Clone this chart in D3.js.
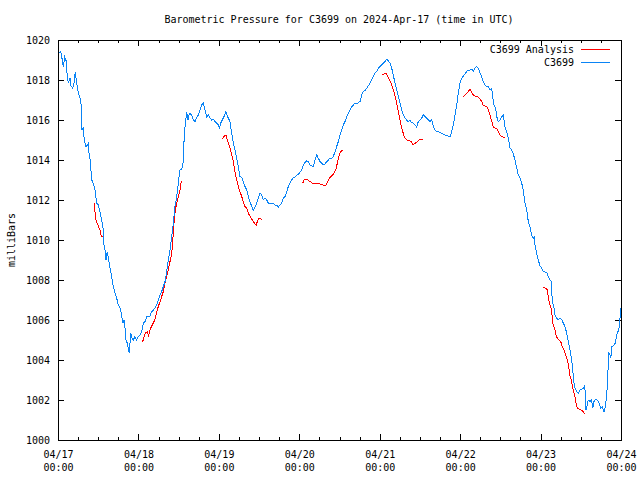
<!DOCTYPE html>
<html>
<head>
<meta charset="utf-8">
<script src="https://cdn.jsdelivr.net/npm/d3@7"></script>
<style>
  html, body { margin: 0; padding: 0; background: #fff; }
  svg { display: block; }
  text { font-family: "DejaVu Sans Mono", "Liberation Mono", monospace; font-size: 10px; fill: #000; }
</style>
</head>
<body>
<svg id="chart" width="640" height="480"></svg>
<script>
// ---------------- DATA ----------------
const startDate = Date.UTC(2024, 3, 17, 0, 0);   // 2024-04-17 00:00 UTC
const titleText = "Barometric Pressure for C3699 on 2024-Apr-17 (time in UTC)";
const yLabelText = "milliBars";
const seriesNames = ["C3699 Analysis", "C3699"];
const yTicks = [1000, 1002, 1004, 1006, 1008, 1010, 1012, 1014, 1016, 1018, 1020];
const dayTickHours = [0, 24, 48, 72, 96, 120, 144, 168];
const minorTickHours = d3.range(0, 169, 6);

// observed station pressure: [hours since 04/17 00:00, mbar]
const observed = [
[0,1019.5],[0.1,1019.37],[0.8,1019.42],[1.28,1019.0],[1.58,1018.67],[2.0,1019.14],[2.39,1018.97],[2.78,1018.17],
[3.07,1017.87],[3.58,1018.09],[3.88,1017.7],[4.39,1017.59],[4.77,1017.84],[5.16,1018.42],[5.58,1017.84],[6.06,1017.34],
[6.56,1017.09],[6.86,1016.84],[7.16,1015.5],[7.55,1015.59],[7.85,1015.0],[8.36,1014.67],[8.74,1014.75],[9.04,1014.84],
[9.25,1014.35],[9.55,1014.05],[10.06,1013.0],[10.53,1012.84],[11.04,1012.5],[11.55,1011.84],[12.03,1011.75],[12.53,1011.42],
[13.04,1011.0],[13.52,1010.5],[13.6,1009.84],[14.02,1009.5],[14.32,1009.0],[14.71,1009.42],[15.01,1009.09],[15.52,1008.59],
[16.02,1008.17],[16.5,1007.67],[17.01,1007.34],[17.52,1007.09],[17.99,1006.75],[18.5,1006.59],[19.01,1006.25],[19.31,1005.84],
[19.69,1006.0],[19.99,1005.59],[20.29,1005.0],[20.68,1004.84],[20.98,1004.59],[21.28,1004.34],[21.69,1005.34],[22.08,1005.09],
[22.47,1005.0],[22.98,1005.17],[23.48,1005.0],[23.96,1005.17],[24.47,1005.25],[24.98,1005.42],[25.45,1005.84],[25.96,1005.92],
[26.47,1006.17],[26.95,1006.2],[27.45,1006.2],[27.96,1006.42],[28.44,1006.5],[28.94,1006.59],[29.45,1006.75],[29.93,1007.0],
[30.44,1007.25],[30.94,1007.42],[31.42,1007.67],[31.93,1007.92],[32.44,1008.42],[32.91,1009.0],[33.42,1009.5],[33.93,1010.17],
[34.41,1010.84],[34.91,1011.67],[35.42,1012.17],[35.9,1012.84],[36.11,1013.17],[36.4,1013.5],[36.91,1013.54],[37.39,1013.92],
[37.69,1015.34],[38.11,1015.92],[38.4,1016.42],[38.79,1016.0],[39.18,1016.34],[39.9,1016.25],[40.37,1016.0],[40.88,1015.92],
[41.39,1016.14],[41.87,1016.25],[42.37,1016.5],[42.88,1016.75],[43.36,1016.84],[43.86,1016.5],[44.37,1016.14],[44.85,1016.25],
[45.36,1016.09],[45.86,1016.0],[46.34,1016.04],[46.85,1015.92],[47.36,1015.84],[47.83,1015.75],[48.13,1015.59],[48.55,1015.84],
[49.15,1016.04],[49.53,1016.17],[50.04,1016.42],[50.52,1016.2],[51.12,1016.0],[51.32,1015.92],[51.83,1015.34],[52.31,1014.84],
[52.82,1014.5],[53.32,1014.09],[53.8,1013.67],[54.31,1013.17],[54.82,1013.14],[55.29,1012.92],[55.8,1012.67],[56.31,1012.5],
[56.79,1012.17],[57.29,1011.92],[57.8,1011.67],[58.28,1011.47],[58.78,1011.64],[59.29,1011.84],[59.77,1012.09],[60.28,1012.34],
[60.78,1012.25],[61.26,1012.0],[61.77,1012.09],[62.28,1012.0],[62.75,1011.84],[63.26,1011.84],[64.25,1011.84],[64.75,1011.75],
[65.26,1011.75],[65.74,1011.64],[66.24,1011.75],[66.75,1011.84],[67.23,1012.09],[67.74,1012.17],[68.24,1012.42],[68.72,1012.67],
[69.23,1012.84],[69.74,1013.0],[70.21,1013.14],[70.72,1013.14],[71.41,1013.25],[72.0,1013.34],[72.72,1013.5],[73.2,1013.75],
[73.7,1013.87],[74.21,1013.97],[74.69,1013.92],[75.2,1013.75],[75.7,1013.7],[76.18,1013.67],[76.69,1014.0],[77.2,1014.25],
[77.67,1014.09],[78.18,1013.92],[78.69,1013.84],[79.17,1013.75],[79.67,1013.8],[80.18,1013.92],[80.66,1014.0],[81.16,1014.09],
[81.67,1014.09],[82.15,1014.17],[82.66,1014.42],[83.16,1014.67],[83.64,1014.92],[84.15,1015.25],[84.66,1015.5],[85.13,1015.75],
[85.64,1015.92],[86.15,1016.17],[86.63,1016.34],[87.13,1016.5],[87.64,1016.67],[88.12,1016.75],[88.62,1016.84],[89.13,1016.8],
[89.61,1016.87],[90.12,1016.92],[90.62,1017.25],[91.1,1017.42],[91.61,1017.47],[92.12,1017.59],[93.1,1017.84],[93.61,1018.0],
[94.09,1018.17],[94.59,1018.34],[95.1,1018.42],[95.58,1018.59],[96.08,1018.67],[96.59,1018.75],[97.07,1018.84],[97.58,1018.92],
[98.08,1019.04],[98.56,1018.97],[99.07,1018.84],[99.58,1018.59],[100.05,1018.25],[100.56,1017.84],[101.07,1017.5],[101.55,1017.17],
[102.05,1016.84],[102.56,1016.5],[103.04,1016.25],[103.55,1016.09],[104.05,1016.0],[104.53,1015.92],[105.04,1015.97],[105.54,1015.87],
[106.02,1015.84],[106.53,1015.75],[107.04,1015.64],[107.51,1015.92],[108.02,1016.0],[108.53,1016.09],[109.01,1016.25],[109.51,1016.17],
[110.02,1016.09],[110.5,1016.0],[111.0,1015.92],[111.51,1016.0],[111.99,1015.67],[112.5,1015.5],[113.0,1015.42],[113.48,1015.42],
[113.99,1015.37],[114.5,1015.34],[114.97,1015.3],[115.48,1015.25],[115.99,1015.25],[116.47,1015.2],[116.97,1015.17],[117.48,1015.42],
[117.96,1015.75],[118.46,1016.25],[118.97,1016.75],[119.45,1017.34],[119.96,1017.84],[120.46,1018.09],[120.94,1018.2],[121.45,1018.3],
[121.96,1018.42],[122.43,1018.5],[122.94,1018.5],[123.45,1018.54],[123.93,1018.42],[124.43,1018.59],[124.94,1018.67],[125.42,1018.59],
[125.92,1018.34],[126.43,1018.17],[126.91,1017.92],[127.42,1017.75],[127.92,1017.67],[128.4,1017.67],[128.91,1017.5],[129.41,1017.59],
[129.71,1017.17],[130.1,1016.75],[130.61,1016.59],[130.91,1016.17],[131.39,1015.92],[131.89,1016.0],[132.4,1016.17],[132.88,1016.25],
[133.38,1015.67],[133.89,1015.42],[134.37,1015.09],[134.88,1014.59],[135.38,1014.5],[135.86,1014.3],[136.37,1014.0],[136.88,1013.6],
[137.35,1013.25],[137.86,1013.09],[138.37,1012.84],[138.85,1012.5],[139.35,1011.84],[139.86,1011.5],[140.34,1010.92],[140.84,1010.67],
[141.35,1010.25],[141.83,1010.09],[142.13,1010.14],[142.34,1009.75],[142.84,1009.34],[143.32,1009.0],[143.83,1008.7],[144.34,1008.59],
[144.81,1008.42],[145.83,1008.37],[146.31,1008.17],[146.81,1008.0],[147.11,1007.97],[147.32,1007.34],[147.62,1006.84],[148.01,1006.59],
[148.3,1006.25],[148.81,1006.09],[149.29,1006.0],[149.8,1006.09],[150.3,1006.04],[150.78,1005.84],[151.29,1005.67],[151.8,1005.34],
[152.27,1004.92],[152.78,1004.5],[153.29,1004.0],[153.59,1003.5],[153.97,1002.84],[154.27,1002.59],[154.78,1002.42],[155.26,1002.34],
[155.76,1002.5],[156.27,1002.54],[156.75,1002.59],[157.05,1002.67],[157.35,1002.42],[157.56,1001.5],[157.94,1001.75],[158.24,1002.0],
[158.75,1001.92],[159.26,1002.0],[159.55,1001.59],[159.94,1001.92],[160.45,1002.04],[160.93,1002.0],[161.43,1001.84],[161.94,1001.59],
[162.42,1001.67],[162.93,1001.42],[163.31,1001.67],[163.73,1002.25],[164.03,1003.09],[164.33,1004.34],[164.72,1004.25],[164.93,1004.09],
[165.31,1004.67],[165.91,1004.75],[166.3,1004.84],[166.72,1005.25],[167.1,1005.42],[167.5,1005.67],[167.91,1006.5],[168,1006.6]
];

// model analysis, drawn as separate pieces: [hours since 04/17 00:00, mbar]
const analysisSegments = [
 [[10.83,1011.84],[11.04,1011.4],[11.34,1011.0],[11.55,1010.88],[11.94,1010.75],[12.32,1010.55],[12.53,1010.5],[12.83,1010.25],[13.04,1010.17],[13.34,1010.17]],
 [[24.98,1004.87],[25.45,1005.0],[25.75,1005.2],[26.17,1005.37],[26.65,1005.42],[27.06,1005.17],[27.24,1005.42],[27.66,1005.59],[28.14,1005.75],
  [28.65,1005.92],[29.15,1006.17],[29.45,1006.42],[29.93,1006.67],[30.44,1006.92],[30.94,1007.17],[31.42,1007.42],[31.93,1007.84],[32.44,1008.17],
  [32.91,1008.5],[33.42,1008.92],[33.93,1009.34],[34.23,1009.84],[34.41,1010.5],[34.7,1011.0],[35.0,1011.5],[35.42,1011.84],[35.9,1012.17],
  [36.4,1012.5],[36.7,1012.84],[37.0,1012.92]],
 [[49.03,1015.04],[49.62,1015.2],[50.13,1015.25],[50.52,1015.0],[50.82,1014.84],[51.32,1014.59],[51.83,1014.25],[52.31,1013.92],[52.82,1013.42],
  [53.32,1013.0],[53.8,1012.67],[54.31,1012.42],[54.82,1012.17],[55.29,1011.92],[55.8,1011.67],[56.31,1011.59],[56.79,1011.34],[57.29,1011.2],
  [57.8,1011.04],[58.28,1010.92],[58.78,1010.8],[59.17,1010.75],[59.47,1010.92],[59.89,1011.09],[60.49,1011.05],[60.96,1011.0]],
 [[73.02,1012.84],[73.41,1013.0],[74.21,1013.04],[75.2,1012.92],[76.0,1012.84],[77.2,1012.84],[78.18,1012.8],[78.99,1012.75],[79.97,1012.75],
  [80.48,1012.92],[80.96,1013.09],[81.67,1013.2],[82.36,1013.34],[82.96,1013.54],[83.34,1013.84],[83.76,1014.17],[84.15,1014.34],[84.66,1014.47],[85.13,1014.5]],
 [[96.77,1018.25],[97.37,1018.3],[97.88,1018.34],[98.38,1018.2],[98.86,1018.0],[99.37,1017.84],[99.87,1017.59],[100.35,1017.34],[100.86,1017.0],
  [101.37,1016.59],[101.84,1016.17],[102.35,1015.75],[102.86,1015.42],[103.34,1015.17],[103.84,1015.04],[104.35,1014.97],[104.83,1014.97],
  [105.34,1014.92],[105.84,1014.79],[106.32,1014.8],[106.83,1014.87],[107.33,1014.92],[107.81,1015.0],[108.53,1015.04],[109.01,1015.05]],
 [[120.94,1017.17],[121.45,1017.25],[121.96,1017.34],[122.43,1017.42],[122.94,1017.53],[123.45,1017.38],[123.93,1017.25],[124.43,1017.19],
  [124.94,1017.17],[125.42,1017.14],[125.92,1017.05],[126.43,1016.92],[126.91,1016.73],[127.42,1016.7],[127.92,1016.69],[128.4,1016.5],
  [128.91,1016.25],[129.41,1015.95],[129.89,1015.65],[130.4,1015.59],[130.91,1015.59],[131.39,1015.42],[131.89,1015.25],[132.4,1015.17],
  [132.88,1015.14],[133.38,1015.14]],
 [[144.81,1007.64],[145.53,1007.59],[146.01,1007.5],[146.31,1007.17],[146.6,1006.84],[147.02,1006.67],[147.32,1006.5],[147.5,1006.0],
  [147.8,1005.75],[148.3,1005.5],[148.6,1005.25],[149.0,1005.09],[149.5,1005.0],[150.01,1004.92],[150.48,1004.67],[150.99,1004.5],
  [151.5,1004.25],[151.98,1004.0],[152.39,1003.67],[152.69,1003.25],[153.0,1003.09],[153.29,1002.92],[153.59,1002.59],[153.97,1002.34],
  [154.27,1002.17],[154.57,1001.84],[154.96,1001.59],[155.47,1001.54],[155.97,1001.5],[156.45,1001.47],[156.87,1001.37],[157.17,1001.29]]
];

// ---------------- CHART ----------------
const W = 640, H = 480;
const margin = { left: 58, right: 19, top: 40, bottom: 40 };
const colors = { analysis: "#ff0000", observed: "#0a84f5" };

const toDate = h => new Date(startDate + h * 3600e3);

const svg = d3.select("#chart");
svg.append("rect").attr("width", W).attr("height", H).attr("fill", "#fff");

const x = d3.scaleUtc()
  .domain([toDate(0), toDate(168)])
  .range([margin.left, W - margin.right]);
const y = d3.scaleLinear()
  .domain([1000, 1020])
  .range([H - margin.bottom, margin.top]);

const fmtDay = d3.utcFormat("%m/%d");
const fmtTime = d3.utcFormat("%H:%M");

// minor ticks (bottom + top)
svg.append("g")
  .attr("transform", `translate(0,${H - margin.bottom})`)
  .call(d3.axisBottom(x).tickValues(minorTickHours.map(toDate)).tickSize(-3).tickFormat(""))
  .call(g => g.select(".domain").remove());
svg.append("g")
  .attr("transform", `translate(0,${margin.top})`)
  .call(d3.axisTop(x).tickValues(minorTickHours.map(toDate)).tickSize(-3).tickFormat(""))
  .call(g => g.select(".domain").remove());

// major x ticks with two-line labels
const xAxisG = svg.append("g")
  .attr("transform", `translate(0,${H - margin.bottom})`)
  .call(d3.axisBottom(x).tickValues(dayTickHours.map(toDate)).tickSize(-6).tickFormat(""))
  .call(g => g.select(".domain").remove());
xAxisG.selectAll(".tick").each(function(d) {
  const t = d3.select(this).append("text")
    .attr("text-anchor", "middle")
    .attr("fill", "#000");
  t.append("tspan").attr("x", 0).attr("y", 18).text(fmtDay(d));
  t.append("tspan").attr("x", 0).attr("y", 31).text(fmtTime(d));
});
svg.append("g")
  .attr("transform", `translate(0,${margin.top})`)
  .call(d3.axisTop(x).tickValues(dayTickHours.map(toDate)).tickSize(-6).tickFormat(""))
  .call(g => g.select(".domain").remove());

// y axes (left with labels, right mirrored)
svg.append("g")
  .attr("transform", `translate(${margin.left},0)`)
  .call(d3.axisLeft(y).tickValues(yTicks).tickSize(-6).tickPadding(8).tickFormat(d3.format("d")))
  .call(g => g.select(".domain").remove())
  .call(g => g.selectAll("text").attr("font-family", null).attr("font-size", null).attr("fill", "#000"));
svg.append("g")
  .attr("transform", `translate(${W - margin.right},0)`)
  .call(d3.axisRight(y).tickValues(yTicks).tickSize(-6).tickFormat(""))
  .call(g => g.select(".domain").remove());

svg.selectAll(".tick line").attr("stroke", "#000").attr("shape-rendering", "crispEdges");
svg.selectAll("g").attr("font-family", null).attr("font-size", null);

// lines
const line = d3.line()
  .x(d => x(toDate(d[0])))
  .y(d => y(d[1]));

svg.append("g").selectAll("path")
  .data(analysisSegments)
  .join("path")
  .attr("d", line)
  .attr("fill", "none")
  .attr("stroke", colors.analysis)
  .attr("stroke-width", 1)
  .attr("shape-rendering", "crispEdges");

svg.append("path")
  .datum(observed)
  .attr("d", line)
  .attr("fill", "none")
  .attr("stroke", colors.observed)
  .attr("stroke-width", 1)
  .attr("shape-rendering", "crispEdges");

// frame
svg.append("rect")
  .attr("x", margin.left + 0.5).attr("y", margin.top + 0.5)
  .attr("width", W - margin.left - margin.right)
  .attr("height", H - margin.top - margin.bottom)
  .attr("fill", "none").attr("stroke", "#000").attr("stroke-width", 1)
  .attr("shape-rendering", "crispEdges");

// title
svg.append("text")
  .attr("x", 339).attr("y", 23)
  .attr("text-anchor", "middle")
  .text(titleText);

// y label
svg.append("text")
  .attr("transform", `translate(15,240) rotate(-90)`)
  .attr("text-anchor", "middle")
  .text(yLabelText);

// legend
const legend = svg.append("g");
const legendItems = [
  { name: seriesNames[0], color: colors.analysis },
  { name: seriesNames[1], color: colors.observed }
];
legendItems.forEach((it, i) => {
  const ly = 49 + i * 13;
  legend.append("text")
    .attr("x", 574).attr("y", ly + 4)
    .attr("text-anchor", "end")
    .text(it.name);
  legend.append("line")
    .attr("x1", 581).attr("x2", 610)
    .attr("y1", ly + 0.5).attr("y2", ly + 0.5)
    .attr("stroke", it.color).attr("stroke-width", 1)
    .attr("shape-rendering", "crispEdges");
});
</script>
</body>
</html>
